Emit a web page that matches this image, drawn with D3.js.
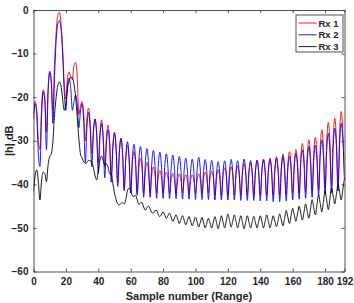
<!DOCTYPE html>
<html>
<head>
<meta charset="utf-8">
<script src="https://cdn.jsdelivr.net/npm/d3@7"></script>
<style>
body { margin: 0; background: #fff; }
text { font-family: "Liberation Sans", Arial, sans-serif; font-weight: bold; fill: #262626; }
</style>
</head>
<body>
<script>
// samples 0..192, one value per range bin (dB)
var rx1 = [
 -24, -21, -23, -30, -32, -22, -18.3, -20, -28, -18, -14, -16, -23, -12, -5, -1.2, -0.5, -3, -9, -17,
 -20.5, -15.5, -14.2, -15.5, -16, -12.8, -12, -15.5, -24, -22, -21, -23.7, -30, -24.8, -22.5, -25.7, -33, -27.4, -25, -28,
 -35, -28.1, -25.2, -28.4, -36, -29.3, -26.4, -29.9, -38, -31, -28, -31.5, -39.5, -32.5, -29.5, -33, -41, -34, -31, -34.3,
 -42, -35.4, -32.5, -35.4, -42, -36.4, -34, -36.4, -42, -37.1, -35, -37.1, -42, -37.8, -36, -37.8, -42, -38.4, -36.8, -38.4,
 -42, -38.6, -37.2, -38.6, -42, -38.9, -37.5, -38.9, -42, -38.9, -37.6, -38.9, -42, -39.1, -37.8, -39.1, -42, -39.1, -37.8, -39.1,
 -42, -38.9, -37.6, -38.9, -42, -38.6, -37.2, -38.6, -42, -38.5, -37, -38.5, -42.5, -38.4, -36.6, -38.4, -42.5, -38.1, -36.2, -38.1,
 -42.5, -38, -36, -38, -42.5, -37.8, -35.8, -37.8, -42.5, -37.4, -35.2, -37.4, -42.5, -37.3, -35, -37.3, -42.5, -37, -34.6, -37,
 -42.5, -36.7, -34.2, -36.7, -42.5, -36.6, -34, -36.6, -42.5, -36.3, -33.6, -36.3, -42.5, -35.9, -33, -35.9, -42.3, -35.4, -32.5, -35.4,
 -42, -35, -32, -35, -42, -34, -30.6, -34, -41.8, -33.4, -29.8, -33.4, -41.5, -32.9, -29.2, -32.9, -41.3, -31.6, -27.5, -31.6,
 -41, -30.3, -25.8, -30.3, -40.5, -29.5, -24.9, -29.5, -40, -28.3, -23.3, -28.3, -39
];
var rx2 = [
 -25, -21.5, -24, -33, -35.9, -24, -18.8, -21, -32, -19, -14.3, -17, -26, -15, -7, -3.2, -2.4, -4.5, -10, -19,
 -23, -17, -15.6, -18, -23, -21, -19.5, -21.8, -27, -23.2, -21.5, -25.6, -35, -27, -23.5, -27.3, -36, -28.3, -25, -28.8,
 -37.5, -29.5, -26, -29.8, -38.5, -30.8, -27.5, -31.1, -39.5, -31.7, -28.3, -32, -40.5, -32.7, -29.4, -33, -41.5, -33.6, -30.2, -33.7,
 -42, -34.2, -30.8, -34.3, -42.5, -34.7, -31.3, -34.8, -43, -35.2, -31.8, -35.2, -43, -35.4, -32.2, -35.5, -43.2, -35.8, -32.6, -35.8,
 -43.2, -36.1, -33, -36.1, -43.3, -36.3, -33.3, -36.3, -43.3, -36.5, -33.6, -36.5, -43.4, -36.8, -34, -36.8, -43.4, -37, -34.2, -37,
 -43.5, -36.7, -33.8, -36.7, -43.5, -37.1, -34.3, -37.1, -43.5, -37.2, -34.5, -37.2, -43.6, -37.4, -34.8, -37.4, -43.6, -37.3, -34.6, -37.3,
 -43.6, -37.1, -34.3, -37.1, -43.6, -37.3, -34.6, -37.3, -43.7, -37.1, -34.2, -37.1, -43.7, -37.3, -34.5, -37.3, -43.7, -37.2, -34.4, -37.2,
 -43.8, -37.2, -34.4, -37.2, -43.8, -37.2, -34.3, -37.2, -44, -37, -34, -37, -44, -36.8, -33.6, -36.7, -43.8, -36.7, -33.6, -36.6,
 -43.6, -36.1, -32.9, -36.1, -43.4, -35.4, -32.1, -35.4, -43.2, -34.9, -31.3, -34.8, -43, -34.6, -31, -34.5, -42.6, -33.6, -29.8, -33.6,
 -42.3, -32.3, -28.3, -32.4, -42, -31.5, -27.1, -31.4, -41.5, -30.7, -26, -29.9, -39
];
var rx3 = [
 -41.7, -38, -36.7, -39.5, -43.6, -39, -37.2, -37.5, -39.4, -35.5, -33.6, -33, -30, -24, -20, -17.3, -16.5, -17.5, -20.5, -23,
 -21.5, -18, -16.2, -15.4, -15.5, -17, -20, -24.5, -29.5, -33, -34, -34.8, -35.2, -35, -34.5, -34.6, -35, -36.2, -38, -39,
 -37, -34.5, -33.5, -34.5, -35.5, -35.3, -36, -37.5, -37.5, -39.8, -42, -43.5, -44.5, -44.7, -44.4, -44.2, -44.5, -43.5, -41.5, -40.9,
 -41.3, -42.6, -42.8, -42.5, -43.5, -44.6, -44.3, -44.2, -45.2, -45.9, -45.4, -45, -45.6, -46.5, -46.6, -46, -46, -46.9, -47.4, -46.9,
 -46.3, -47, -47.8, -47.2, -46.6, -47.5, -48.5, -47.7, -47, -48, -49, -48.1, -47.2, -48.2, -49.3, -48.3, -47.4, -48.4, -49.5, -48.5,
 -47.5, -48.6, -49.8, -48.7, -47.6, -48.8, -50, -48.9, -47.8, -48.9, -50, -48.7, -47.4, -48.8, -50.2, -48.7, -47.2, -48.6, -50, -48.4,
 -46.8, -48.3, -49.8, -48.4, -47, -48.5, -50, -48.6, -47.2, -48.7, -50.2, -48.7, -47.2, -48.6, -50, -48.7, -47.3, -48.7, -50, -48.6,
 -47.2, -48.6, -50, -48.5, -47, -48.5, -50, -48.6, -47.2, -48.5, -49.7, -48.3, -46.8, -48.2, -49.5, -47.8, -46, -47.5, -49, -47.2,
 -45.5, -47, -48.5, -46.8, -45, -46.6, -48.2, -46.4, -44.5, -46.2, -47.8, -45.7, -43.5, -45.3, -47, -44.7, -42.4, -44.4, -46.3, -43.9,
 -41.5, -43.7, -45.8, -43.3, -40.8, -42.7, -44.5, -42.3, -40, -41.8, -43.6, -41.1, -38.6
];
var seriesNames = ["Rx 1", "Rx 2", "Rx 3"];
var seriesColors = ["#ff0000", "#0000ff", "#000000"];
var xTicks = [0, 20, 40, 60, 80, 100, 120, 140, 160, 180, 192];
var yTicks = [0, -10, -20, -30, -40, -50, -60];

var width = 354;
var height = 303;
var padL = 33.5, padR = 344.5, padT = 10, padB = 271.5;
var axisColor = "#262626";

var svg = d3.select("body").append("svg")
    .attr("width", width)
    .attr("height", height);

svg.append("rect")
    .attr("width", width)
    .attr("height", height)
    .attr("fill", "#fff");

var x = d3.scaleLinear().domain([0, 192]).range([padL, padR]);
var y = d3.scaleLinear().domain([-60, 0]).range([padB, padT]);

svg.append("clipPath").attr("id", "plotclip")
    .append("rect")
    .attr("x", padL).attr("y", padT)
    .attr("width", padR - padL).attr("height", padB - padT);

var line = d3.line()
    .x(function (d, i) { return x(i); })
    .y(function (d) { return y(d); })
    .curve(d3.curveMonotoneX);

var plot = svg.append("g").attr("clip-path", "url(#plotclip)");
[rx1, rx2, rx3].forEach(function (s, k) {
    plot.append("path")
        .datum(s)
        .attr("fill", "none")
        .attr("stroke", seriesColors[k])
        .attr("stroke-width", 0.9)
        .attr("d", line);
});

// axes, ticks inside on all four sides (box on)
var tl = 3;
var gx = svg.append("g").attr("transform", "translate(0," + padB + ")")
    .call(d3.axisBottom(x).tickValues(xTicks).tickSizeInner(-tl).tickSizeOuter(0).tickPadding(6));
var gxt = svg.append("g").attr("transform", "translate(0," + padT + ")")
    .call(d3.axisTop(x).tickValues(xTicks).tickSizeInner(-tl).tickSizeOuter(0).tickFormat(""));
var gy = svg.append("g").attr("transform", "translate(" + padL + ",0)")
    .call(d3.axisLeft(y).tickValues(yTicks).tickSizeInner(-tl).tickSizeOuter(0).tickPadding(5));
var gyr = svg.append("g").attr("transform", "translate(" + padR + ",0)")
    .call(d3.axisRight(y).tickValues(yTicks).tickSizeInner(-tl).tickSizeOuter(0).tickFormat(""));

[gx, gxt, gy, gyr].forEach(function (g) {
    g.select(".domain").attr("stroke", axisColor).attr("stroke-width", 0.8);
    g.selectAll(".tick line").attr("stroke", axisColor).attr("stroke-width", 0.8);
    g.selectAll("text")
        .attr("fill", axisColor)
        .style("font-family", "'Liberation Sans', Arial, sans-serif")
        .style("font-weight", "bold")
        .style("font-size", "10px");
});

svg.append("text")
    .text("Sample number (Range)")
    .attr("x", (padL + padR) / 2)
    .attr("y", 300)
    .attr("text-anchor", "middle")
    .style("font-size", "11px");

svg.append("text")
    .text("|h| dB")
    .attr("transform", "translate(13," + ((padT + padB) / 2) + ") rotate(-90)")
    .attr("text-anchor", "middle")
    .style("font-size", "11px");

// legend
var lg = svg.append("g");
lg.append("rect")
    .attr("x", 296).attr("y", 15)
    .attr("width", 47).attr("height", 37)
    .attr("fill", "#fff")
    .attr("stroke", axisColor)
    .attr("stroke-width", 0.8);

seriesNames.forEach(function (name, k) {
    var ry = 23 + k * 11.8;
    lg.append("line")
        .attr("x1", 298.5).attr("x2", 316.5)
        .attr("y1", ry).attr("y2", ry)
        .attr("stroke", seriesColors[k])
        .attr("stroke-width", 0.9);
    lg.append("text")
        .text(name)
        .attr("x", 318.5)
        .attr("y", ry + 3.5)
        .style("font-size", "9.5px");
});
</script>
</body>
</html>
